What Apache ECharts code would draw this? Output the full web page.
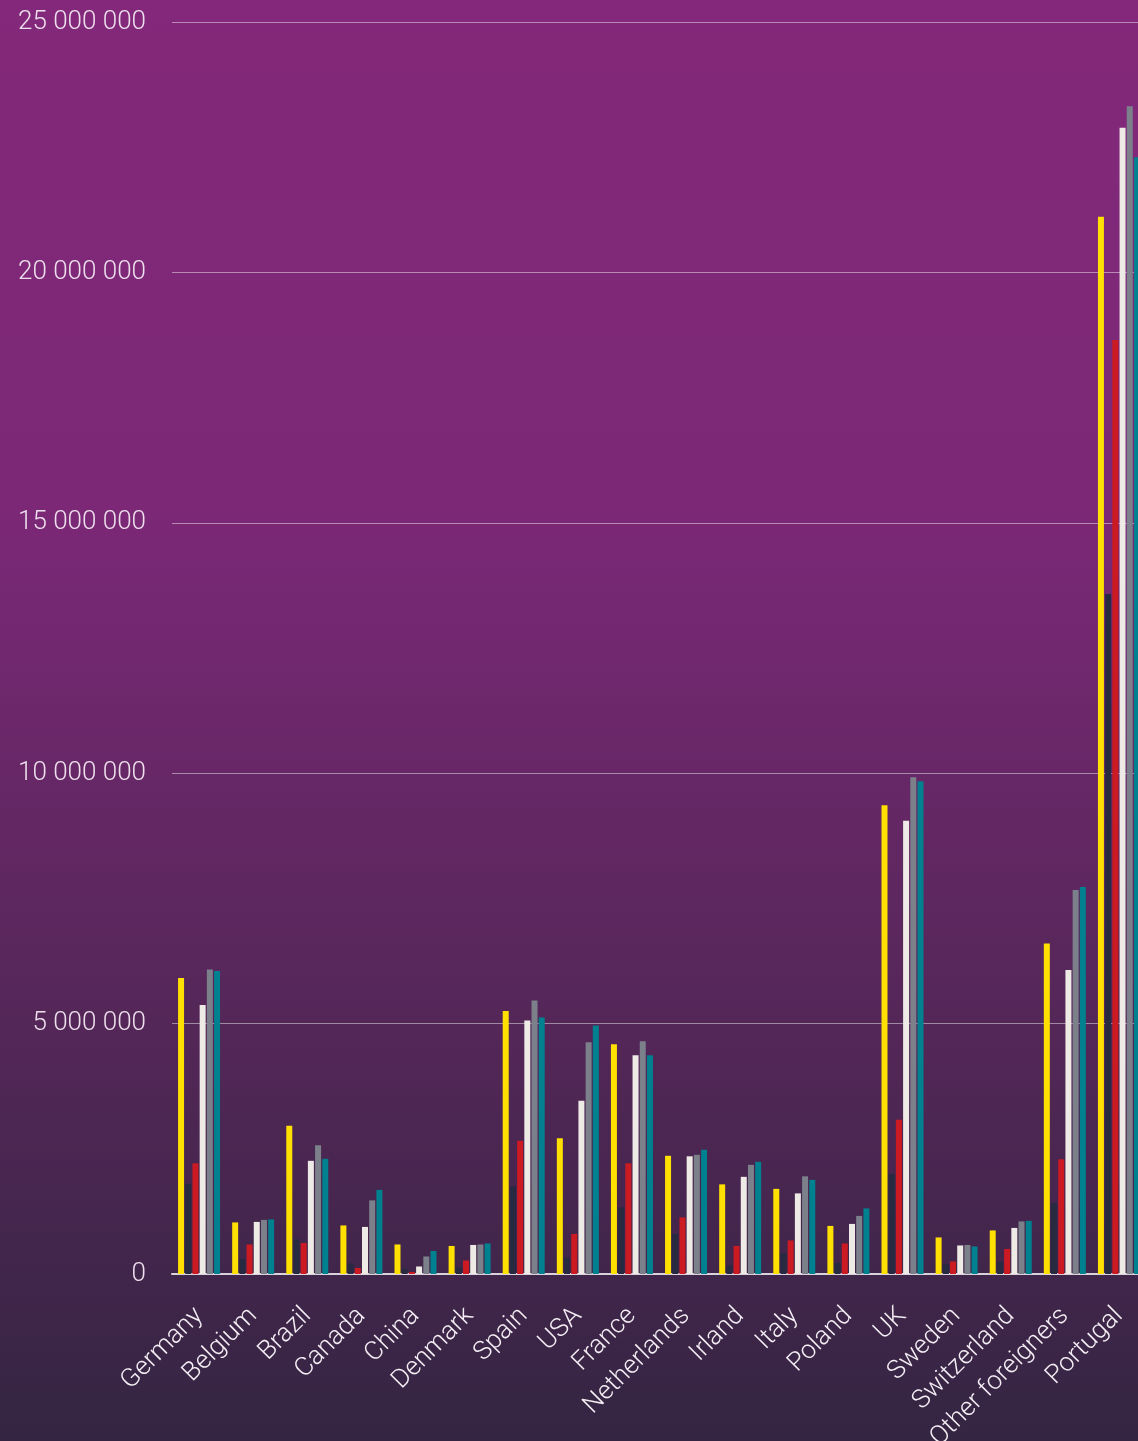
<!DOCTYPE html>
<html>
<head>
<meta charset="utf-8">
<script src="https://cdn.jsdelivr.net/npm/echarts@6/dist/echarts.min.js"></script>
<style>
    html, body { margin: 0; padding: 0; overflow: hidden; background: #342542; }
    #chart { width: 1146px; height: 1441px; }
</style>
</head>
<body>
<div id="chart"></div>
<script>
// categories and values (millions)
var countries = ['Germany', 'Belgium', 'Brazil', 'Canada', 'China', 'Denmark', 'Spain', 'USA', 'France',
    'Netherlands', 'Irland', 'Italy', 'Poland', 'UK', 'Sweden', 'Switzerland', 'Other foreigners', 'Portugal'];

var serieYellow = [5.91, 1.03, 2.96, 0.97, 0.59, 0.56, 5.25, 2.71, 4.59, 2.36, 1.79, 1.70, 0.96, 9.36, 0.73, 0.87, 6.60, 21.11];
var serieDark   = [1.80, 0.30, 0.69, 0.21, 0.10, 0.13, 1.75, 0.33, 1.33, 0.80, 0.17, 0.42, 0.22, 2.00, 0.19, 0.24, 1.42, 13.58];
var serieRed    = [2.21, 0.59, 0.62, 0.12, 0.04, 0.27, 2.66, 0.80, 2.21, 1.13, 0.56, 0.67, 0.61, 3.08, 0.25, 0.50, 2.29, 18.65];
var serieWhite  = [5.37, 1.04, 2.26, 0.94, 0.15, 0.58, 5.06, 3.46, 4.37, 2.35, 1.94, 1.61, 1.00, 9.05, 0.57, 0.92, 6.07, 22.89];
var serieGray   = [6.08, 1.08, 2.57, 1.47, 0.35, 0.59, 5.46, 4.63, 4.65, 2.38, 2.18, 1.95, 1.16, 9.92, 0.58, 1.05, 7.67, 23.32];
var serieTeal   = [6.05, 1.09, 2.30, 1.68, 0.46, 0.61, 5.12, 4.96, 4.37, 2.48, 2.24, 1.88, 1.31, 9.84, 0.55, 1.06, 7.73, 22.30];

var yTicks = [0, 5000000, 10000000, 15000000, 20000000, 25000000];

function toUnits(arr) {
    var out = [];
    for (var i = 0; i < arr.length; i++) {
        out.push(Math.round(arr[i] * 1000000));
    }
    return out;
}

function fmt(v) {
    // 25000000 -> "25 000 000"
    return String(v).replace(/\B(?=(\d{3})+(?!\d))/g, ' ');
}

function initChart() {
    var chart = echarts.init(document.getElementById('chart'));
    var colors = ['#ffe000', '#272a40', '#cc1a22', '#eeeae6', '#7b808b', '#00818f'];
    var lists = [serieYellow, serieDark, serieRed, serieWhite, serieGray, serieTeal];
    var series = [];
    for (var i = 0; i < lists.length; i++) {
        series.push({
            type: 'bar',
            data: toUnits(lists[i]),
            barWidth: 6,
            barGap: '20%',
            itemStyle: { color: colors[i] }
        });
    }

    var option = {
        backgroundColor: {
            type: 'linear', x: 0, y: 0, x2: 0, y2: 1,
            colorStops: [
                { offset: 0, color: '#83287a' },
                { offset: 0.35, color: '#7c2877' },
                { offset: 0.7, color: '#552759' },
                { offset: 1, color: '#342542' }
            ]
        },
        animation: false,
        grid: { left: 172, top: 22, width: 974, height: 1252, outerBoundsMode: 'none' },
        xAxis: {
            type: 'category',
            data: countries,
            axisTick: { show: false },
            axisLine: { lineStyle: { color: '#d9d2da', width: 2 } },
            axisLabel: {
                rotate: 45,
                interval: 0,
                margin: 38,
                color: '#f4eef4',
                fontFamily: 'Roboto',
                fontWeight: 300,
                fontSize: 26
            }
        },
        yAxis: {
            type: 'value',
            min: yTicks[0],
            max: yTicks[yTicks.length - 1],
            interval: yTicks[1] - yTicks[0],
            axisLine: { show: false },
            axisTick: { show: false },
            splitLine: { lineStyle: { color: 'rgba(255,255,255,0.45)', width: 1 } },
            axisLabel: {
                margin: 26,
                color: '#eddfec',
                fontFamily: 'Roboto',
                fontWeight: 300,
                fontSize: 26,
                formatter: function (v) { return fmt(v); }
            }
        },
        series: series
    };
    chart.setOption(option);
}

initChart();
</script>
</body>
</html>
